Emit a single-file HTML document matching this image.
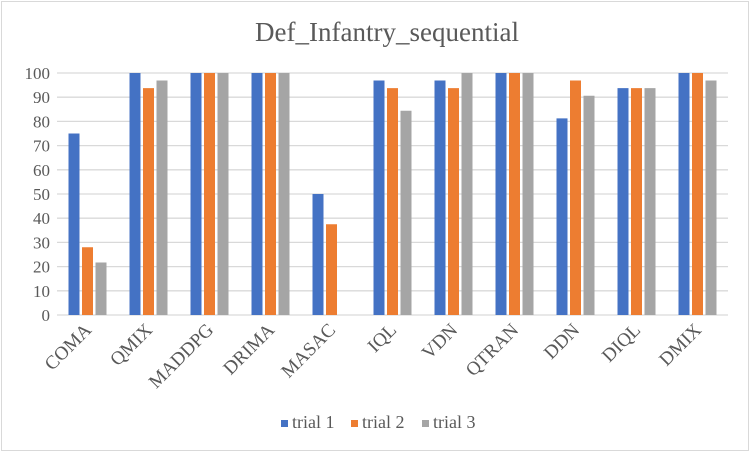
<!DOCTYPE html>
<html><head><meta charset="utf-8"><style>
body{margin:0;background:#fff;}
svg{display:block;font-family:"Liberation Serif",serif;}
</style></head><body>
<svg id="c" width="752" height="454">
<rect x="1.5" y="1.5" width="747" height="449" fill="#fff" stroke="#d9d9d9"/>
<text x="387" y="41" text-anchor="middle" font-size="27" fill="#595959">Def_Infantry_sequential</text>
<g id="grid"></g><g id="bars"></g><g id="labels"></g>
<g id="legend"></g>
</svg>
<script>
const categories=["COMA","QMIX","MADDPG","DRIMA","MASAC","IQL","VDN","QTRAN","DDN","DIQL","DMIX"];
const trial1=[75,100,100,100,50,96.9,96.9,100,81.25,93.75,100];
const trial2=[28,93.75,100,100,37.5,93.75,93.75,100,96.9,93.75,100];
const trial3=[21.7,96.9,100,100,0,84.4,100,100,90.6,93.75,96.9];
const seriesNames=["trial 1","trial 2","trial 3"];
const ticks=[0,10,20,30,40,50,60,70,80,90,100];
const colors=["#4472c4","#ed7d31","#a5a5a5"];
const NS="http://www.w3.org/2000/svg";
const X0=57,X1=728,Y0=315,Y1=73;
const bw=(X1-X0)/categories.length;
const y=v=>Y0-(v/100)*(Y0-Y1);
const xc=i=>X0+bw*(i+0.5);
function mk(t,a,p){const e=document.createElementNS(NS,t);for(const k in a)e.setAttribute(k,a[k]);p.appendChild(e);return e;}
const g=document.getElementById('grid');
ticks.forEach(t=>{
 const l=mk('line',{x1:X0,x2:X1,y1:y(t),y2:y(t),stroke:'#d9d9d9','stroke-width':1.3},g);
 
 
 const tx=mk('text',{x:50,y:y(t)+6,'text-anchor':'end','font-size':17,fill:'#595959'},g);
 tx.textContent=t;
 
 
});
const b=document.getElementById('bars');
const series=[trial1,trial2,trial3];
const W=11,G=2.5;
categories.forEach((c,i)=>{
 series.forEach((s,j)=>{
  const x=xc(i)-(3*W+2*G)/2+j*(W+G);
  const r=mk('rect',{x:x,y:y(s[i]),width:W,height:Y0-y(s[i]),fill:colors[j]},b);
  
  
 });
 const t=mk('text',{x:0,y:0,'text-anchor':'end','font-size':19,fill:'#595959',transform:`translate(${xc(i)+5},${331}) rotate(-45)`},document.getElementById('labels'));
 t.textContent=c;
 
 
});
const lg=document.getElementById('legend');
const lx=[281,351,422];
seriesNames.forEach((n,j)=>{
 const r=mk('rect',{x:lx[j],y:420,width:7,height:7,fill:colors[j]},lg);
 
 
 const t=mk('text',{x:lx[j]+11,y:428,'font-size':18,fill:'#595959'},lg);
 t.textContent=n;
 
 
});
</script>
</body></html>
